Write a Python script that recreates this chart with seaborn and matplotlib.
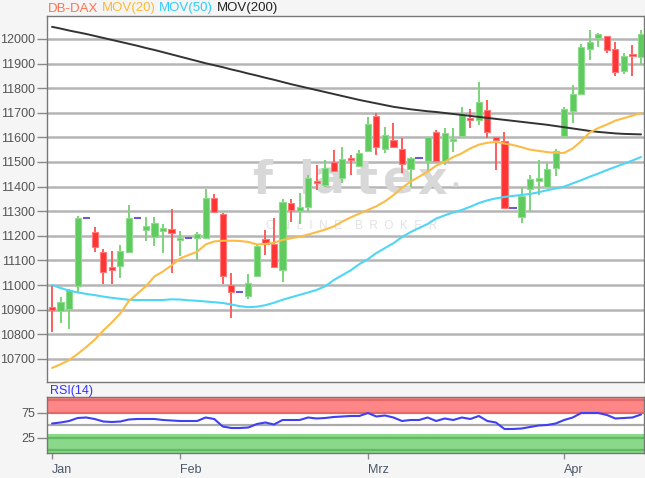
import numpy as np
import pandas as pd
import matplotlib
matplotlib.use("Agg")
import matplotlib.pyplot as plt
import seaborn as sns

# === Data (one entry per slot) ===
month_labels = ["Jan", "Feb", "Mrz", "Apr"]
month_pos = [0, 15, 37, 60]

# weekend quotes, drawn as a flat purple dash
flat_days = [4, 10, 16, 22, 43, 54]

open_ = [10911, 10894, 10902, 10996, 11272, 11215, 11134, 11073, 11077, 11134,
         11272, 11224, 11195, 11220, 11228, 11183, 11191, 11191, 11191, 11354,
         11289, 11000, 10972, 10955, 11037, 11187, 11167, 11061, 11333, 11301,
         11317, 11423, 11407, 11500, 11435, 11516, 11484, 11545, 11687, 11553,
         11589, 11553, 11472, 11516, 11504, 11622, 11504, 11585, 11606, 11675,
         11671, 11711, 11602, 11585, 11313, 11276, 11390, 11423, 11398, 11476,
         11606, 11707, 11776, 11959, 12004, 12012, 11959, 11870, 11935, 11927]
high = [11000, 10951, 10984, 11280, 11272, 11236, 11146, 11138, 11163, 11325,
        11272, 11276, 11276, 11248, 11309, 11220, 11191, 11215, 11390, 11370,
        11293, 11049, 10972, 11045, 11167, 11224, 11272, 11350, 11350, 11374,
        11447, 11488, 11508, 11549, 11561, 11528, 11549, 11683, 11699, 11642,
        11659, 11598, 11520, 11516, 11602, 11630, 11638, 11638, 11724, 11715,
        11825, 11752, 11602, 11622, 11313, 11398, 11447, 11508, 11496, 11553,
        11724, 11813, 11980, 12037, 12024, 12012, 11988, 11943, 11976, 12037]
low = [10809, 10846, 10821, 10972, 11272, 11134, 11004, 11004, 11028, 11134,
       11272, 11179, 11159, 11130, 11049, 11118, 11191, 11102, 11191, 11297,
       11004, 10866, 10972, 10943, 11037, 11122, 11073, 11012, 11256, 11248,
       11297, 11386, 11398, 11463, 11415, 11447, 11480, 11545, 11528, 11537,
       11561, 11455, 11398, 11516, 11459, 11504, 11488, 11541, 11606, 11638,
       11650, 11598, 11467, 11313, 11313, 11252, 11301, 11366, 11394, 11443,
       11606, 11659, 11776, 11915, 11967, 11943, 11850, 11858, 11850, 11894]
close = [10898, 10931, 10980, 11272, 11272, 11154, 11053, 11061, 11138, 11272,
         11272, 11240, 11252, 11232, 11211, 11191, 11191, 11207, 11354, 11297,
         11037, 10972, 10972, 11008, 11159, 11167, 11073, 11337, 11305, 11317,
         11435, 11415, 11476, 11463, 11512, 11508, 11537, 11654, 11561, 11610,
         11561, 11492, 11516, 11516, 11602, 11504, 11618, 11593, 11691, 11671,
         11744, 11622, 11589, 11313, 11313, 11362, 11431, 11435, 11472, 11545,
         11715, 11776, 11967, 11988, 12020, 11955, 11866, 11931, 11931, 12020]

mov20 = [10663, 10678, 10695, 10720, 10748, 10778, 10815, 10848, 10885, 10935,
         10965, 10995, 11035, 11055, 11080, 11108, 11122, 11135, 11165, 11177,
         11180, 11180, 11179, 11175, 11165, 11167, 11172, 11183, 11190, 11196,
         11205, 11215, 11225, 11238, 11258, 11275, 11290, 11305, 11320, 11340,
         11365, 11395, 11420, 11440, 11460, 11485, 11500, 11520, 11535, 11555,
         11570, 11578, 11581, 11575, 11569, 11560, 11550, 11545, 11540, 11537,
         11537, 11555, 11585, 11620, 11638, 11652, 11668, 11678, 11688, 11699]
mov50 = [11000, 10988, 10977, 10970, 10964, 10959, 10953, 10948, 10944, 10940,
         10939, 10939, 10939, 10939, 10942, 10941, 10938, 10936, 10933, 10930,
         10927, 10921, 10914, 10910, 10912, 10918, 10928, 10940, 10950, 10960,
         10970, 10980, 10995, 11020, 11040, 11060, 11085, 11105, 11130, 11150,
         11170, 11195, 11215, 11232, 11248, 11270, 11283, 11295, 11305, 11318,
         11333, 11344, 11352, 11358, 11362, 11366, 11370, 11377, 11385, 11392,
         11400, 11413, 11426, 11440, 11453, 11467, 11480, 11493, 11506, 11520]
mov200 = [12049, 12042, 12034, 12027, 12020, 12012, 12004, 11996, 11988, 11980,
          11972, 11963, 11955, 11946, 11937, 11928, 11919, 11910, 11901, 11893,
          11885, 11876, 11868, 11859, 11851, 11842, 11834, 11825, 11816, 11808,
          11800, 11792, 11784, 11776, 11768, 11760, 11752, 11745, 11738, 11731,
          11724, 11719, 11714, 11710, 11706, 11703, 11699, 11695, 11691, 11687,
          11683, 11679, 11675, 11671, 11667, 11663, 11659, 11655, 11651, 11646,
          11641, 11636, 11631, 11626, 11622, 11619, 11616, 11614, 11613, 11612]

rsi14 = [53, 55, 58, 64, 65, 62, 57, 56, 57, 61,
         62, 62, 62, 60, 59, 58, 58, 58, 65, 62,
         47, 44, 44, 45, 52, 55, 51, 60, 60, 60,
         65, 63, 64, 66, 67, 68, 68, 74, 67, 69,
         65, 58, 60, 60, 65, 58, 63, 60, 65, 62,
         68, 58, 55, 42, 42, 43, 46, 49, 50, 53,
         60, 65, 74, 74, 74, 70, 63, 64, 65, 71]

price_ticks = list(range(10700, 12001, 100))

# === Colours ===
UP, UP_EDGE, UP_WICK = "#5fcb5f", "#8ddc8d", "#7ad47a"
DOWN, DOWN_EDGE, DOWN_WICK = "#ff3535", "#ff7a7a", "#ff5c5c"
DASH = "#6a5ad8"
C20, C50, C200 = "#fbbc45", "#4fd6f6", "#333333"

# === Frame ===
df = pd.DataFrame({"open": open_, "high": high, "low": low, "close": close,
                   "mov20": mov20, "mov50": mov50, "mov200": mov200, "rsi": rsi14})
df["day"] = np.arange(len(df))
df["kind"] = np.where(df["close"] >= df["open"], "up", "down")
df.loc[flat_days, "kind"] = "flat"

sns.set_style("white")
plt.rcParams["font.family"] = ["Liberation Sans", "DejaVu Sans"]

W, H = 645, 478
fig = plt.figure(figsize=(W / 100, H / 100), dpi=100, facecolor="#f5f5f5")
ax = fig.add_axes([47 / W, 1 - 382 / H, 597 / W, 366 / H])
ax2 = fig.add_axes([47 / W, 1 - 453.3 / H, 597 / W, 56.6 / H])

xlim = (-0.59, 69.35)

# === Price panel ===
ax.set_facecolor("white")
for p in price_ticks:
    ax.axhline(p, color="#b5b5b5", lw=1.8, zorder=0)


def px_frac(px, py):
    # pixel position in the main panel -> axes fraction (only for the watermark)
    return (px - 47) / 597, 1 - (py - 16) / 366


# faint "flatex" watermark behind the candles
for ch, px in zip("flatex", [262, 306, 330, 366, 399, 432]):
    fx, fy = px_frac(px, 194)
    ax.text(fx, fy, ch, transform=ax.transAxes, ha="center", va="baseline",
            fontsize=33, fontweight="bold", color="#d8d8d8", zorder=1,
            family="DejaVu Sans")
fx, fy = px_frac(455, 186)
ax.text(fx, fy, "\u2022", transform=ax.transAxes, ha="center", va="center",
        fontsize=12, color="#d8d8d8", zorder=1, family="DejaVu Sans")
fx, fy = px_frac(352, 226)
ax.text(fx, fy, "O  N  L  I  N  E    B  R  O  K  E  R", transform=ax.transAxes,
        ha="center", va="center", fontsize=8.5, color="#e2e2e2", zorder=1)

for kind, g in df.groupby("kind"):
    if kind == "flat":
        ax.hlines(g["close"], g["day"] - 0.42, g["day"] + 0.42, color=DASH, lw=1.5, zorder=3)
        continue
    face, edge, wick = (UP, UP_EDGE, UP_WICK) if kind == "up" else (DOWN, DOWN_EDGE, DOWN_WICK)
    ax.vlines(g["day"], g["low"], g["high"], color=wick, lw=1.4, zorder=3)
    mid = (g["open"] + g["close"]) / 2
    h = np.maximum((g["close"] - g["open"]).abs(), 9)
    ax.bar(g["day"], h, bottom=mid - h / 2, width=0.72, color=face,
           edgecolor=edge, linewidth=0.8, zorder=4)

sns.lineplot(data=df, x="day", y="mov200", ax=ax, color=C200, lw=1.4, zorder=5)
sns.lineplot(data=df, x="day", y="mov50", ax=ax, color=C50, lw=1.5, zorder=5)
sns.lineplot(data=df, x="day", y="mov20", ax=ax, color=C20, lw=1.5, zorder=5)

ax.set_xlim(*xlim)
ax.set_ylim(10606, 12093)
ax.set_xticks([])
ax.set_yticks(price_ticks)
ax.set_yticklabels([str(p) for p in price_ticks])
ax.set_xlabel("")
ax.set_ylabel("")
ax.tick_params(axis="y", direction="out", length=7, width=1, color="#8a8a8a",
               labelsize=9, labelcolor="#555555", pad=1.5, left=True)
for s in ax.spines.values():
    s.set_color("#777777")
    s.set_linewidth(1)

# header legend
t = fig.text(48 / W, 1 - 8.5 / H, "DB-DAX", color="#ff7350", fontsize=9.5,
             ha="left", va="center")
for label, col in [("MOV(20)", "#ffb833"), ("MOV(50)", "#33ccff"), ("MOV(200)", "#222222")]:
    t = ax.annotate(label, xy=(1, 0.5), xycoords=t, xytext=(2.5, 0),
                    textcoords="offset points", ha="left", va="center",
                    color=col, fontsize=9.5, annotation_clip=False)

# === RSI panel ===
ax2.set_facecolor("white")
ylo, yhi = -6.6, 106.6
ax2.axhspan(74, yhi, color="#ff8686", lw=0, zorder=0)
ax2.axhspan(ylo, 33, color="#8ad88a", lw=0, zorder=0)
for v, c in [(100, "#e36a6a"), (75, "#e36a6a"), (25, "#5fbb5f"), (0, "#5fbb5f"), (50, "#aaaaaa")]:
    ax2.axhline(v, color=c, lw=1.6, zorder=1)
sns.lineplot(data=df, x="day", y="rsi", ax=ax2, color="#3f3ff5", lw=1.5, zorder=3)
ax2.set_xlim(*xlim)
ax2.set_ylim(ylo, yhi)
ax2.set_yticks([25, 75])
ax2.set_yticklabels(["25", "75"])
ax2.set_xticks(month_pos)
ax2.set_xticklabels(month_labels, ha="left")
ax2.set_xlabel("")
ax2.set_ylabel("")
ax2.tick_params(axis="y", direction="out", length=7, width=1, color="#8a8a8a",
                labelsize=9, labelcolor="#555555", pad=1.5, left=True)
ax2.tick_params(axis="x", direction="out", length=4, width=1, color="#8a8a8a",
                labelsize=9, labelcolor="#4a5868", pad=4, bottom=True)
for s in ax2.spines.values():
    s.set_color("#777777")
    s.set_linewidth(1)
ax2.text(3 / 597, 1.1, "RSI(14)", transform=ax2.transAxes, color="#3333ff",
         fontsize=9, ha="left", va="center")

fig.savefig("out.png", dpi=100, facecolor=fig.get_facecolor())
